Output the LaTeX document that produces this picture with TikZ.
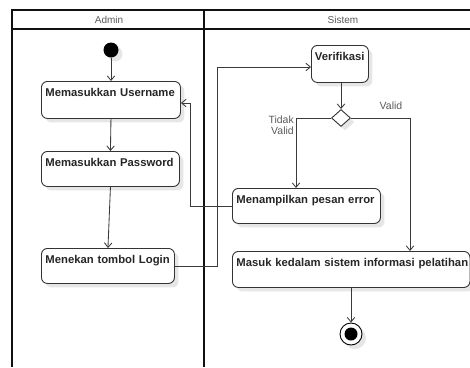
\documentclass[tikz,border=0pt]{standalone}
\usepackage{fontspec}
\setmainfont{Liberation Sans}
\usetikzlibrary{arrows.meta,shapes.geometric,shadows}
\definecolor{lanecol}{HTML}{111111}
\definecolor{boxcol}{HTML}{333333}
\definecolor{wirecol}{HTML}{3A3A3A}
\definecolor{txtgray}{HTML}{5A5A5A}
\definecolor{shadecol}{HTML}{E6E6E6}
\tikzset{
  lane/.style={draw=lanecol, line width=1.3pt},
  soft/.style={drop shadow={shadow xshift=4pt, shadow yshift=-4pt, fill=shadecol, opacity=1}},
  act/.style={soft, draw=boxcol, line width=0.9pt, fill=white, rounded corners=6pt,
    anchor=north west, inner xsep=4pt, inner ysep=2pt, align=left, text height=13pt,
    font=\fontsize{11.3}{13}\selectfont\bfseries, text=black!85},
  hdr/.style={font=\fontsize{10}{12}\selectfont, text=txtgray},
  lbl/.style={font=\fontsize{10.5}{11}\selectfont, text=txtgray, inner sep=0pt},
  wire/.style={draw=wirecol, line width=0.85pt, -{Straight Barb[length=4.5pt,width=7.5pt]}},
  startnode/.style={soft, circle, fill=black, minimum size=15pt, inner sep=0pt},
  endnode/.style={soft, circle, draw=black, line width=0.9pt, fill=white, minimum size=22pt, inner sep=0pt,
    path picture={\fill[black] (path picture bounding box.center) circle (6.5pt);}},
  decision/.style={soft, diamond, draw=boxcol, line width=0.9pt, fill=white, minimum width=19pt,
    minimum height=17pt, inner sep=0pt}
}
\begin{document}
\begin{tikzpicture}[x=1pt, y=-1pt]
\useasboundingbox (0,0) rectangle (470,367);

% swimlane frame
\draw[lane] (470,10) -- (12,10) -- (12,367);
\draw[lane] (12,29) -- (470,29);
\draw[lane] (204,10) -- (204,367);
\node[hdr] (admin) at (109,20) {Admin};
\node[hdr] (sistem) at (343,20) {Sistem};

% Admin lane
\node[startnode] (start) at (111,50) {};
\node[act, text width=131pt, text depth=20pt] (user) at (41,81) {Memasukkan Username};
\node[act, text width=130pt, text depth=18pt] (pass) at (41,151) {Memasukkan Password};
\node[act, text width=125pt, text depth=18pt] (login) at (41,248) {Menekan tombol Login};

% Sistem lane
\node[act, text width=50pt, inner xsep=3.5pt, text depth=20pt] (verif) at (311,45) {Verifikasi};
\node[decision] (dec) at (341,118) {};
\node[act, text width=140pt, text depth=18pt] (err) at (232,188) {Menampilkan pesan error};
\node[act, text width=229.5pt, text depth=19pt] (masuk) at (232,251) {\mbox{Masuk kedalam sistem informasi pelatihan}};
\node[endnode] (end) at (351,334) {};

% bend points
\coordinate (up) at (217,67);
\coordinate (back) at (190,103);
\coordinate (nok) at (296,118);
\coordinate (ok) at (410,118);

% flows
\draw[wire] (start) -- (start |- user.north);
\draw[wire] (user.south) -- (pass.north);
\draw[wire] (pass.south) -- (login.north);
\draw[wire] (login.east) -| (up) -- (verif.west |- up);
\draw[wire] (verif.south -| dec) -- (dec.north);
\draw[wire] (dec.east) -- (ok) -- (ok |- masuk.north);
\draw[wire] (dec.west) -- (nok) -- (nok |- err.north);
\draw[wire] (err.west) -| (back) -- (user.east |- back);
\draw[wire] (end |- masuk.south) -- (end.north);

% guard labels
\node[lbl] (gvalid) at (391,106) {Valid};
\node[lbl, align=right, anchor=east] (gtidak) at (294,125) {Tidak\\Valid};
\end{tikzpicture}
\end{document}
